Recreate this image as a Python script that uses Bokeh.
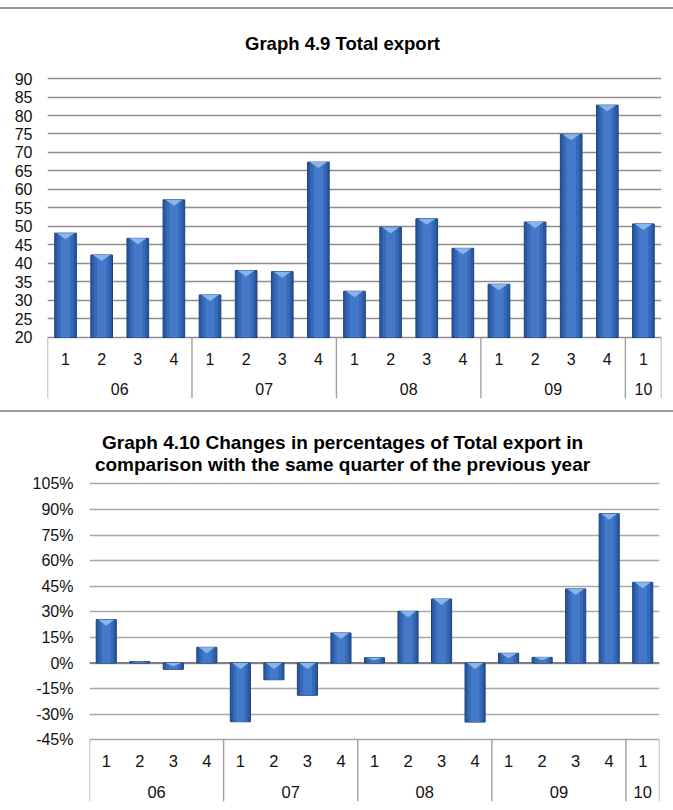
from bokeh.plotting import figure
from bokeh.models import Range1d, FixedTicker, Span, Spacer, ColumnDataSource
from bokeh.embed import file_html
from bokeh.resources import INLINE
from bokeh.core.properties import value

# ---------------- data ----------------
years = ["06", "06", "06", "06", "07", "07", "07", "07", "08", "08", "08", "08",
         "09", "09", "09", "09", "10"]
quarters = ["1", "2", "3", "4", "1", "2", "3", "4", "1", "2", "3", "4",
            "1", "2", "3", "4", "1"]
total_export = [48.2, 42.3, 46.8, 57.2, 31.5, 38.1, 37.8, 67.4, 32.5, 49.8, 52.1, 44.1,
                34.4, 51.2, 74.9, 82.8, 50.7]
change_pct = [25.4, 0.8, -3.7, 9.2, -34.4, -9.8, -18.9, 17.6, 3.1, 30.3, 37.5, -34.6,
              5.7, 3.3, 43.4, 87.5, 47.3]

top_ticks = [20, 25, 30, 35, 40, 45, 50, 55, 60, 65, 70, 75, 80, 85, 90]
top_tick_labels = ["20", "25", "30", "35", "40", "45", "50", "55", "60", "65", "70",
                   "75", "80", "85", "90"]
bottom_ticks = [-45, -30, -15, 0, 15, 30, 45, 60, 75, 90, 105]
bottom_tick_labels = ["-45%", "-30%", "-15%", "0%", "15%", "30%", "45%", "60%", "75%",
                      "90%", "105%"]

title_top = ["Graph 4.9 Total export"]
title_bottom = ["Graph 4.10 Changes in percentages of Total export in",
                "comparison with the same quarter of the previous year"]

FONT = "Liberation Sans"
W = 673


def year_groups(ys):
    groups = []
    for i, y in enumerate(ys):
        if groups and groups[-1][0] == y:
            groups[-1][2] = i
        else:
            groups.append([y, i, i])
    return groups


def make_chart(vals, base, ticks, tick_labels, y_start, y_end, height, frame_left,
               frame_w, border_bottom, px_unit, label_size, tick_size, q_y, yr_y,
               titles, title_ys, title_size, title_dx, grid_color, standoff):
    n = len(vals)
    p = figure(width=W, height=height, output_backend="svg", toolbar_location=None,
               x_range=Range1d(-0.5, n - 0.5), y_range=Range1d(y_start, y_end))
    p.min_border_left = frame_left
    p.min_border_right = W - frame_left - frame_w
    p.min_border_top = 0
    p.min_border_bottom = border_bottom
    p.outline_line_color = None
    p.background_fill_color = "white"
    p.border_fill_color = "white"

    p.xaxis.visible = False
    p.xgrid.visible = False
    ax = p.yaxis[0]
    ax.ticker = FixedTicker(ticks=ticks)
    ax.major_label_overrides = {t: l for t, l in zip(ticks, tick_labels)}
    ax.axis_line_color = None
    ax.major_tick_line_color = None
    ax.minor_tick_line_color = None
    ax.major_tick_out = 0
    ax.major_tick_in = 0
    ax.major_label_standoff = standoff
    ax.major_label_text_font = FONT
    ax.major_label_text_font_size = tick_size
    ax.major_label_text_color = "#111111"
    p.ygrid.ticker = FixedTicker(ticks=ticks)
    p.ygrid.grid_line_color = grid_color
    p.ygrid.grid_line_width = 1.5

    xs = list(range(n))
    tops = [max(v, base) for v in vals]
    bots = [min(v, base) for v in vals]
    src = ColumnDataSource(dict(x=xs, top=tops, bottom=bots))
    p.vbar(x="x", top="top", bottom="bottom", width=0.6, source=src,
           fill_color="#2a58a2", line_color="#1c427a", line_width=1)
    p.vbar(x="x", top="top", bottom="bottom", width=0.44, source=src,
           fill_color="#3669b8", line_color=None)
    p.vbar(x="x", top="top", bottom="bottom", width=0.26, source=src,
           fill_color="#4379c8", line_color=None)

    # chevron highlight at the top of each bar
    h_unit = 6.0 / px_unit
    cx, cy = [], []
    for x, t, b in zip(xs, tops, bots):
        h = min(h_unit, (t - b) * 0.5)
        cx.append([x - 0.24, x + 0.24, x])
        cy.append([t, t, t - h])
    p.patches(cx, cy, fill_color="#8fbdf0", line_color=None, fill_alpha=0.9)

    # category box
    groups = year_groups(years)
    bounds = [g[1] - 0.5 for g in groups] + [groups[-1][2] + 0.5]
    p.segment(x0=bounds, x1=bounds, y0=[ticks[0]] * len(bounds),
              y1=[y_start] * len(bounds), line_color="#a0a0a0", line_width=1.4)

    p.text(x=xs, y=[q_y] * n, text=quarters, text_align="center",
           text_baseline="middle", text_font=value(FONT), text_font_size=label_size,
           text_color="#111111")
    p.text(x=[(g[1] + g[2]) / 2 for g in groups], y=[yr_y] * len(groups),
           text=[g[0] for g in groups], text_align="center", text_baseline="middle",
           text_font=value(FONT), text_font_size=label_size, text_color="#111111")

    p.text(x=[(n - 1) / 2] * len(titles), y=title_ys, text=titles, text_align="center",
           text_baseline="middle", text_font=value(FONT), text_font_size=title_size,
           text_font_style="bold", text_color="#000000", x_offset=title_dx)
    return p


# top chart: figure spans page y 9..410
p1 = make_chart(total_export, 20, top_ticks, top_tick_labels,
                y_start=3.51, y_end=108.65, height=401, frame_left=47, frame_w=614,
                border_bottom=12, px_unit=3.7, label_size="16px", tick_size="16px",
                q_y=14.3, yr_y=6.1, titles=title_top, title_ys=[99.5],
                title_size="18.5px", title_dx=-12, grid_color="#8e8e8e", standoff=15)

# bottom chart: figure spans page y 412..808
p2 = make_chart(change_pct, 0, bottom_ticks, bottom_tick_labels,
                y_start=-81.15, y_end=146.78, height=396, frame_left=89, frame_w=570,
                border_bottom=7, px_unit=1.7067, label_size="16.5px", tick_size="16px",
                q_y=-57.5, yr_y=-75.7, titles=title_bottom, title_ys=[129.4, 116.3],
                title_size="19px", title_dx=-32, grid_color="#a8a8a8", standoff=16)
p2.add_layout(Span(location=0, dimension="width", line_color="#808080",
                   line_width=2, level="underlay"))

gap = Spacer(width=W, height=7)
line1 = Spacer(width=W, height=2, styles={"background-color": "#969696"})
line2 = Spacer(width=W, height=2, styles={"background-color": "#969696"})

open("out.html", "w").write(file_html([gap, line1, p1, line2, p2], INLINE))
